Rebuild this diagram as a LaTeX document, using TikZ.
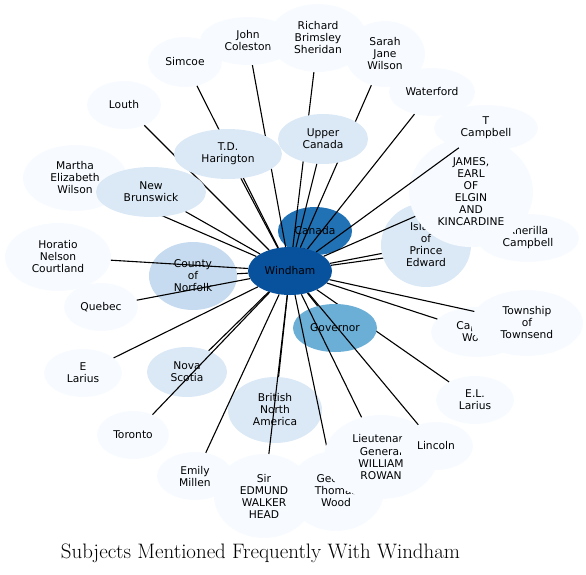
\documentclass[tikz,border=0pt]{standalone}
\usepackage{fontspec}
\usetikzlibrary{shapes.geometric}
\newfontfamily\labelfont{DejaVu Sans}
\definecolor{toneA}{HTML}{F7FBFF}
\definecolor{toneB}{HTML}{DBE9F6}
\definecolor{toneC}{HTML}{C6DBEF}
\definecolor{toneD}{HTML}{6BAED6}
\definecolor{toneE}{HTML}{2171B5}
\definecolor{toneF}{HTML}{08519C}
\pgfdeclarelayer{background}
\pgfsetlayers{background,main}

\begin{document}
\begin{tikzpicture}[x=1pt, y=-1pt,
		subj/.style={ellipse, inner sep=0pt, align=center, fill=toneA,
			font=\labelfont\fontsize{10.7}{12}\selectfont},
		dims/.style 2 args={minimum width=#1pt, minimum height=#2pt},
		link/.style={line width=1.1pt}]
		\useasboundingbox (0,0) rectangle (586,574);
		
		% Centre node
		\node[subj, fill=toneF, dims={84}{48}] (Windham) at (290,271) {Windham};
		
		% Canada lies behind Windham
		\begin{pgfonlayer}{background}
			\node[subj, fill=toneE, dims={74}{48}] (Canada) at (315,231) {Canada};
			\draw[link] (Windham) -- (Canada);
		\end{pgfonlayer}
		
		% Subjects, each followed by its connection (later ones cover earlier)
		\node[subj, dims={78}{48}] (ELLarius) at (475,400) {E.L.\\Larius};
		\draw[link] (Windham) -- (ELLarius);
		\node[subj, fill=toneD, dims={84}{48}] (Governor) at (335,328) {Governor};
		\draw[link] (Windham) -- (Governor);
		\node[subj, fill=toneC, dims={88}{68}] (Norfolk) at (193,276) {County\\of\\Norfolk};
		\draw[link] (Windham) -- (Norfolk);
		\node[subj, dims={106}{68}] (Courtland) at (58,257) {Horatio\\Nelson\\Courtland};
		\draw[link] (Windham) -- (Courtland);
		\node[subj, dims={74}{48}] (Quebec) at (101,307) {Quebec};
		\draw[link] (Windham) -- (Quebec);
		\node[subj, fill=toneB, dims={80}{50}] (Nova) at (187,372) {Nova\\Scotia};
		\draw[link] (Windham) -- (Nova);
		\node[subj, dims={72}{48}] (Toronto) at (133,435) {Toronto};
		\draw[link] (Windham) -- (Toronto);
		\node[subj, fill=toneB, dims={94}{66}] (BNA) at (275,410) {British\\North\\America};
		\draw[link] (Windham) -- (BNA);
		\node[subj, dims={100}{84}] (Head) at (264,496) {Sir\\EDMUND\\WALKER\\HEAD};
		\draw[link] (Windham) -- (Head);
		\node[subj, dims={96}{80}] (GWood) at (336,491) {George\\Thomas\\Wood};
		\draw[link] (Windham) -- (GWood);
		\node[subj, dims={114}{84}] (Rowan) at (381,457) {Lieutenant\\General\\WILLIAM\\ROWAN};
		\draw[link] (Windham) -- (Rowan);
		\node[subj, dims={74}{48}] (Lincoln) at (436,446) {Lincoln};
		\draw[link] (Windham) -- (Lincoln);
		\node[subj, dims={76}{48}] (Millen) at (195,476) {Emily\\Millen};
		\draw[link] (Windham) -- (Millen);
		\node[subj, dims={78}{48}] (ELarius) at (83,373) {E\\Larius};
		\draw[link] (Windham) -- (ELarius);
		\node[subj, dims={74}{48}] (Louth) at (124,105) {Louth};
		\draw[link] (Windham) -- (Louth);
		\node[subj, dims={74}{50}] (Simcoe) at (185,62) {Simcoe};
		\draw[link] (Windham) -- (Simcoe);
		\node[subj, dims={96}{48}] (Coleston) at (248,41) {John\\Coleston};
		\draw[link] (Windham) -- (Coleston);
		\node[subj, dims={98}{68}] (Sheridan) at (318,38) {Richard\\Brimsley\\Sheridan};
		\draw[link] (Windham) -- (Sheridan);
		\node[subj, dims={80}{66}] (SJWilson) at (385,54) {Sarah\\Jane\\Wilson};
		\draw[link] (Windham) -- (SJWilson);
		\node[subj, fill=toneB, dims={90}{50}] (Upper) at (323,139) {Upper\\Canada};
		\draw[link] (Windham) -- (Upper);
		\node[subj, fill=toneB, dims={108}{50}] (Harington) at (228,154) {T.D.\\Harington};
		\draw[link] (Windham) -- (Harington);
		\node[subj, dims={104}{66}] (Martha) at (75,178) {Martha\\Elizabeth\\Wilson};
		\draw[link] (Windham) -- (Martha);
		\node[subj, fill=toneB, dims={110}{50}] (Brunswick) at (151,192) {New\\Brunswick};
		\draw[link] (Windham) -- (Brunswick);
		\node[subj, dims={86}{48}] (Waterford) at (432,92) {Waterford};
		\draw[link] (Windham) -- (Waterford);
		\node[subj, dims={102}{48}] (ACampbell) at (528,238) {Anerilla\\Campbell};
		\draw[link] (Windham) -- (ACampbell);
		\node[subj, fill=toneB, dims={90}{84}] (Island) at (426,245) {Island\\of\\Prince\\Edward};
		\draw[link] (Windham) -- (Island);
		\node[subj, dims={124}{110}] (Elgin) at (471,192) {JAMES,\\EARL\\OF\\ELGIN\\AND\\KINCARDINE};
		\draw[link] (Windham) -- (Elgin);
		\node[subj, dims={104}{46}] (TCampbell) at (486,128) {T\\Campbell};
		\draw[link] (Windham) -- (TCampbell);
		\node[subj, dims={92}{50}] (CWood) at (477,332) {Captain\\Wood};
		\draw[link] (Windham) -- (CWood);
		\node[subj, dims={112}{66}] (Townsend) at (527,323) {Township\\of\\Townsend};
		\draw[link] (Windham) -- (Townsend);
		
		% Title
		\node[font=\fontsize{20.9}{25}\selectfont, anchor=base] (title) at (260.5,558) {Subjects Mentioned Frequently With Windham};
	\end{tikzpicture}
\end{document}
